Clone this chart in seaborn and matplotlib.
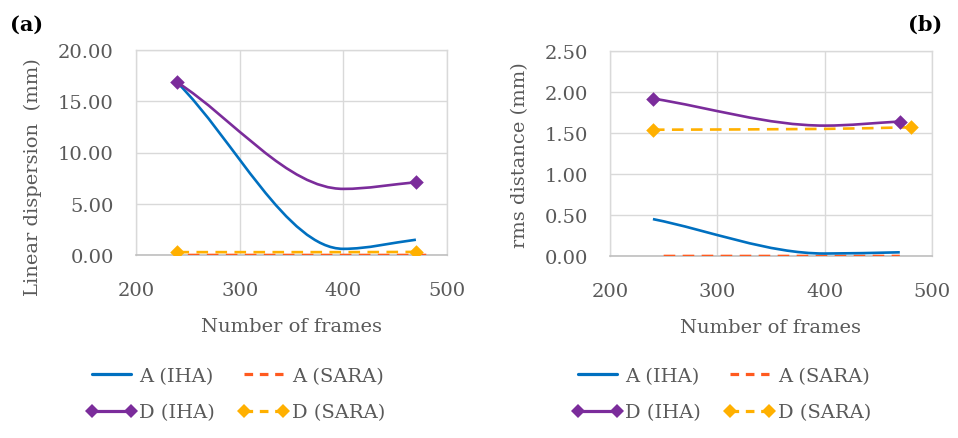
import numpy as np
import pandas as pd
import matplotlib
matplotlib.use("Agg")
import matplotlib.pyplot as plt
import seaborn as sns
from matplotlib.path import Path
from matplotlib.patches import PathPatch
from matplotlib.lines import Line2D

# ---------------- data ----------------
frames_iha = [240, 400, 470]
frames_sara_a_a = [250, 400, 480]
frames_sara_d_a = [240, 400, 470]
frames_sara_a_b = [250, 400, 470]
frames_sara_d_b = [240, 400, 480]

lin_A_IHA = [16.80, 0.60, 1.49]
lin_A_SARA = [0.0, 0.0, 0.0]
lin_D_IHA = [16.83, 6.45, 7.10]
lin_D_SARA = [0.28, 0.28, 0.30]

rms_A_IHA = [0.45, 0.03, 0.045]
rms_A_SARA = [0.0, 0.0, 0.0]
rms_D_IHA = [1.92, 1.59, 1.64]
rms_D_SARA = [1.54, 1.55, 1.57]

xticks = [200, 300, 400, 500]
lin_yticks = [0, 5, 10, 15, 20]
rms_yticks = [0, 0.5, 1.0, 1.5, 2.0, 2.5]
series_names = ["A (IHA)", "A (SARA)", "D (IHA)", "D (SARA)"]

# ---------------- style ----------------
C_A_IHA = "#0070C0"
C_A_SARA = "#FF5A1F"
C_D_IHA = "#7B2C9B"
C_D_SARA = "#FFB000"
GRAY_TXT = "#595959"
GRID = "#d9d9d9"
DASH = (0, (4.4, 2.8))
LW = 1.9

sns.set_theme(style="white")
plt.rcParams["font.family"] = ["DejaVu Serif"]


def smooth_path(xs, ys):
    """Excel-like smooth line rendered as cubic Bezier segments through the data points."""
    xs = np.asarray(xs, float)
    ys = np.asarray(ys, float)
    n = len(xs)
    m = np.zeros(n)
    for i in range(n):
        if i == 0:
            m[i] = (ys[1] - ys[0]) / (xs[1] - xs[0])
        elif i == n - 1:
            m[i] = (ys[-1] - ys[-2]) / (xs[-1] - xs[-2])
        else:
            if (ys[i] - ys[i - 1]) * (ys[i + 1] - ys[i]) < 0:
                m[i] = 0.0
            else:
                m[i] = (ys[i + 1] - ys[i - 1]) / (xs[i + 1] - xs[i - 1])
    verts = [(xs[0], ys[0])]
    codes = [Path.MOVETO]
    for i in range(n - 1):
        h = xs[i + 1] - xs[i]
        verts += [(xs[i] + h / 3, ys[i] + m[i] * h / 3),
                  (xs[i + 1] - h / 3, ys[i + 1] - m[i + 1] * h / 3),
                  (xs[i + 1], ys[i + 1])]
        codes += [Path.CURVE4] * 3
    return Path(verts, codes)


def draw_series(ax, xs, ys, color, ls, marker):
    ax.add_patch(PathPatch(smooth_path(xs, ys), fill=False, edgecolor=color,
                           lw=LW, linestyle=ls, capstyle="butt", zorder=3))
    if marker:
        df = pd.DataFrame({"x": [xs[0], xs[-1]], "y": [ys[0], ys[-1]]})
        sns.scatterplot(data=df, x="x", y="y", ax=ax, marker="D", s=55,
                        color=color, edgecolor=color, linewidth=0, zorder=4,
                        legend=False)


def style_axes(ax, yticks, fmt):
    ax.set_xlim(xticks[0], xticks[-1])
    ax.set_ylim(yticks[0], yticks[-1])
    ax.set_xticks(xticks)
    ax.set_yticks(yticks)
    ax.set_xticklabels([str(t) for t in xticks])
    ax.set_yticklabels([fmt.format(t) for t in yticks])
    ax.grid(True, color=GRID, lw=1.0, zorder=0)
    ax.set_axisbelow(True)
    for s in ["left", "right", "top"]:
        ax.spines[s].set_color(GRID)
        ax.spines[s].set_linewidth(1.0)
    ax.spines["bottom"].set_color("#bfbfbf")
    ax.spines["bottom"].set_linewidth(1.2)
    ax.tick_params(axis="both", length=0, labelsize=14, colors=GRAY_TXT)
    ax.tick_params(axis="x", pad=19)
    ax.tick_params(axis="y", pad=16)
    ax.set_xlabel("Number of frames", fontsize=14, color=GRAY_TXT, labelpad=13)


W, H = 958, 439
fig = plt.figure(figsize=(W / 100, H / 100), dpi=100)


def px_axes(l, r, t, b):
    return fig.add_axes([l / W, (H - b) / H, (r - l) / W, (b - t) / H])


axA = px_axes(136, 447, 51, 256)
axB = px_axes(610, 932, 52, 257)

# panel (a)
draw_series(axA, frames_sara_a_a, lin_A_SARA, C_A_SARA, DASH, False)
draw_series(axA, frames_sara_d_a, lin_D_SARA, C_D_SARA, DASH, True)
draw_series(axA, frames_iha, lin_A_IHA, C_A_IHA, "-", False)
draw_series(axA, frames_iha, lin_D_IHA, C_D_IHA, "-", True)
style_axes(axA, lin_yticks, "{:.2f}")
axA.set_ylabel("Linear dispersion  (mm)", fontsize=14, color=GRAY_TXT)
axA.yaxis.set_label_coords((42 - 136) / 311, (256 - 177) / 205)

# panel (b)
draw_series(axB, frames_sara_a_b, rms_A_SARA, C_A_SARA, DASH, False)
draw_series(axB, frames_sara_d_b, rms_D_SARA, C_D_SARA, DASH, True)
draw_series(axB, frames_iha, rms_A_IHA, C_A_IHA, "-", False)
draw_series(axB, frames_iha, rms_D_IHA, C_D_IHA, "-", True)
style_axes(axB, rms_yticks, "{:.2f}")
axB.set_ylabel("rms distance (mm)", fontsize=14, color=GRAY_TXT)
axB.yaxis.set_label_coords((529 - 610) / 322, (257 - 155) / 205)

fig.text(27 / W, 1 - 25 / H, "(a)", fontsize=15, fontweight="bold",
         ha="center", va="center", color="black")
fig.text(925 / W, 1 - 25 / H, "(b)", fontsize=15, fontweight="bold",
         ha="center", va="center", color="black")

# legends
LEG_DASH = (0, (2.7, 2.1))
colors = [C_A_IHA, C_A_SARA, C_D_IHA, C_D_SARA]
styles = ["-", LEG_DASH, "-", LEG_DASH]
markers = [None, None, "D", "D"]
handles = []
for c, ls, mk in zip(colors, styles, markers):
    handles.append(Line2D([0, 1], [0, 0], color=c, lw=2.3, linestyle=ls,
                          marker=mk, markersize=7, markeredgewidth=0,
                          dash_capstyle="butt"))
order = [0, 2, 1, 3]
for x0 in [86, 572]:
    fig.legend([handles[i] for i in order], [series_names[i] for i in order],
               ncol=2, loc="upper left",
               bbox_to_anchor=(x0 / W, 1 - 368 / H), frameon=False,
               fontsize=14, handlelength=2.6, handletextpad=0.15,
               columnspacing=1.2, labelspacing=0.95, numpoints=2,
               borderaxespad=0, borderpad=0, labelcolor=GRAY_TXT)

fig.savefig("out.png", dpi=100)
